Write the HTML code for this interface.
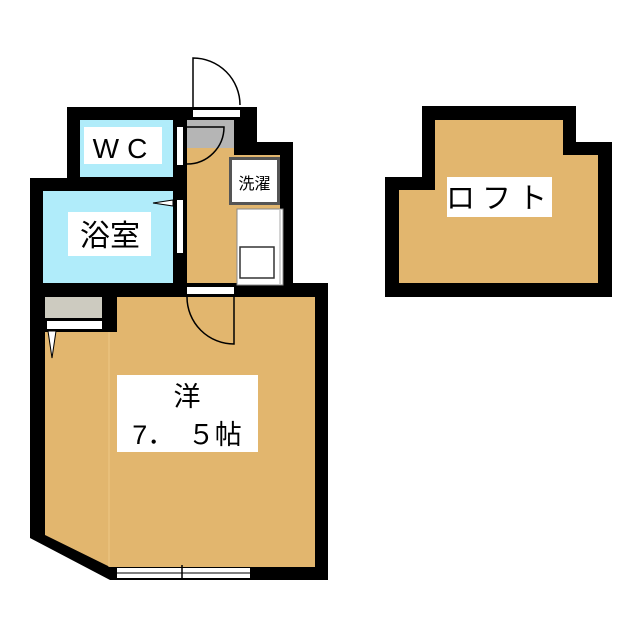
<!DOCTYPE html>
<html><head><style>html,body{margin:0;padding:0;background:#fff}svg{display:block}</style></head>
<body>
<svg width="640" height="640" viewBox="0 0 640 640" xmlns="http://www.w3.org/2000/svg" font-family="Liberation Sans, Noto Sans CJK JP, sans-serif">
<!-- Loft -->
<polygon points="385,177 422,177 422,106 576,106 576,142 612,142 612,297 385,297" fill="#000"/>
<polygon points="399,190 435,190 435,120 563,120 563,155 598,155 598,283 399,283" fill="#e2b66e"/>
<rect x="447" y="177" width="105" height="40" fill="#fff"/>
<text x="500" y="208" font-size="29" text-anchor="middle" letter-spacing="7">ロフト</text>

<!-- Main outline blacks -->
<rect x="67" y="107" width="190" height="80" fill="#000"/>
<rect x="187" y="142" width="106" height="155" fill="#000"/>
<rect x="30" y="178" width="160" height="119" fill="#000"/>
<polygon points="30,283 328,283 328,580 110,580 30,538" fill="#000"/>

<!-- WC -->
<rect x="80" y="120" width="93" height="57" fill="#b0ecfa"/>
<rect x="84" y="127" width="78" height="37" fill="#fff"/>
<text x="124" y="158" font-size="28" text-anchor="middle" letter-spacing="8">WC</text>
<!-- Bath -->
<rect x="43" y="191" width="130" height="92" fill="#b0ecfa"/>
<rect x="68" y="212" width="83" height="44" fill="#fff"/>
<text x="110" y="246" font-size="30" text-anchor="middle">浴室</text>

<!-- Hall -->
<rect x="187" y="120" width="47" height="163" fill="#e2b66e"/>
<rect x="187" y="120" width="47" height="28" fill="#b5b5b5"/>
<rect x="234" y="155" width="46" height="128" fill="#e2b66e"/>
<rect x="229" y="157" width="51" height="48" fill="#555"/>
<rect x="232" y="160" width="45" height="42" fill="#fff"/>
<text x="254.5" y="189" font-size="16" text-anchor="middle">洗濯</text>
<rect x="237" y="209" width="46" height="76" fill="#fff" stroke="#888" stroke-width="1"/>
<rect x="240" y="247" width="34" height="31" fill="#fff" stroke="#333" stroke-width="1.5"/>
<line x1="280" y1="210" x2="280" y2="284" stroke="#aaa"/>

<!-- Entrance door -->
<rect x="193" y="110" width="47" height="7" fill="#fff"/>
<path d="M193,110 L193,58 A47,47 0 0 1 240,105" fill="none" stroke="#000" stroke-width="1.5"/>
<!-- WC door -->
<rect x="177" y="127" width="6" height="38" fill="#fff"/>
<path d="M187,164 A37,37 0 0 0 224,127 L187,127" fill="none" stroke="#000" stroke-width="1.5"/>
<!-- Bath door -->
<rect x="177" y="200" width="6" height="53" fill="#fff"/>
<polygon points="173,200 153,203 173,206" fill="#fff" stroke="#000" stroke-width="1"/>

<!-- Main room -->
<polygon points="45,297 315,297 315,567 110,567 45,535" fill="#e2b66e"/>
<line x1="109" y1="332" x2="109" y2="567" stroke="#edc887" stroke-width="1"/>
<rect x="43" y="297" width="74" height="35" fill="#000"/>
<rect x="45" y="297" width="57" height="21" fill="#cdcbc0"/>
<rect x="47" y="321" width="55" height="8" fill="#fff"/>
<polygon points="48,331 52,358 56,331" fill="#fff" stroke="#000" stroke-width="1"/>
<!-- Main door -->
<rect x="187" y="287" width="47" height="7" fill="#fff"/>
<path d="M187,297 A47,47 0 0 0 234,344 L234,297" fill="none" stroke="#000" stroke-width="1.5"/>
<!-- window -->
<rect x="117" y="568" width="133" height="10" fill="#fff"/>
<line x1="117" y1="573" x2="250" y2="573" stroke="#000" stroke-width="1"/>
<line x1="182" y1="565" x2="182" y2="580" stroke="#000" stroke-width="1.5"/>
<!-- label -->
<rect x="117" y="375" width="141" height="77" fill="#fff"/>
<text x="187" y="406" font-size="27" text-anchor="middle">洋</text>
<text x="187" y="444" font-size="27" text-anchor="middle">7．　５帖</text>
</svg>
</body></html>
